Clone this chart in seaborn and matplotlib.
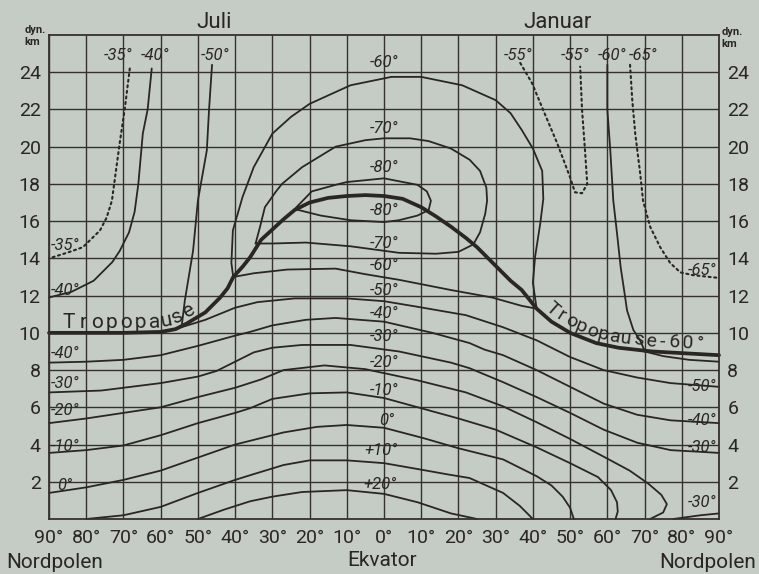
import numpy as np
import pandas as pd
import matplotlib
matplotlib.use("Agg")
import matplotlib.pyplot as plt
import seaborn as sns
from matplotlib import font_manager

# ---------------- data (latitude coordinate u: -90 = Nordpol/Juli, 0 = Ekvator, +90 = Nordpol/Januar; height in dyn. km)
X_TICKS = list(range(-90, 91, 10))
X_TICK_LABELS = ["90°", "80°", "70°", "60°", "50°", "40°", "30°", "20°", "10°", "0°",
                 "10°", "20°", "30°", "40°", "50°", "60°", "70°", "80°", "90°"]
Y_TICKS = list(range(2, 25, 2))

TROPOPAUSE = [(-90, 10.0), (-70, 10.0), (-60, 10.05), (-56, 10.2), (-53, 10.5), (-48, 11.1), (-44, 11.9),
              (-42, 12.4), (-40.5, 13.0), (-38, 13.55), (-36, 14.05), (-33, 15.0), (-30, 15.55), (-27, 16.1),
              (-24, 16.6), (-20, 17.0), (-15, 17.25), (-10, 17.35), (-5, 17.4), (0, 17.35), (5, 17.2),
              (10, 16.75), (14, 16.25), (18, 15.7), (22, 15.1), (25, 14.6), (28, 14.0), (31, 13.4),
              (34, 12.8), (37, 12.3), (41, 11.3), (45, 10.6), (50, 10.0), (57, 9.45), (63, 9.2),
              (72, 9.0), (81, 8.9), (90, 8.8)]

# tropospheric isotherms
T_M60_TROP = [(-40.5, 13.0), (-35, 13.2), (-26, 13.4), (-13, 13.45), (-5, 13.15), (4, 12.85), (18, 12.3),
              (29, 11.9), (37, 11.45), (41, 11.3)]
T_M60_POLAR = [(68, 9.1), (75, 8.75), (82, 8.55), (90, 8.45)]
T_M50 = [(-57, 10.15), (-52, 10.45), (-48, 10.7), (-40, 11.35), (-34, 11.65), (-24, 11.85), (-10, 11.85),
         (0, 11.7), (9, 11.4), (22, 10.95), (32, 10.3), (41, 9.6), (50, 8.7), (59, 8.0), (68, 7.6),
         (77, 7.3), (90, 7.1)]
T_M40 = [(-90, 8.4), (-80, 8.45), (-70, 8.55), (-60, 8.8), (-50, 9.3), (-40, 9.85), (-36, 10.05),
         (-30, 10.4), (-21, 10.7), (-13, 10.8), (0, 10.6), (13, 10.0), (23, 9.45), (27, 9.1), (32, 8.8),
         (41, 8.0), (50, 7.1), (59, 6.2), (68, 5.6), (77, 5.3), (90, 5.15)]
T_M30 = [(-90, 6.8), (-76, 6.9), (-60, 7.3), (-50, 7.65), (-45, 7.95), (-40, 8.45), (-35, 8.95),
         (-30, 9.2), (-22, 9.35), (-9, 9.35), (4, 9.0), (18, 8.4), (23, 8.1), (32, 7.35), (41, 6.55),
         (50, 5.7), (59, 4.8), (68, 4.1), (77, 3.7), (90, 3.55)]
T_M30_SURF = [(77.7, 0.0), (85, 0.2), (90, 0.3)]
T_M20 = [(-90, 5.15), (-80, 5.4), (-70, 5.7), (-60, 6.0), (-50, 6.55), (-40, 7.05), (-33, 7.5),
         (-27, 8.0), (-16, 8.25), (-5, 8.05), (9, 7.45), (22, 6.8), (32, 6.05), (41, 5.2), (50, 4.3),
         (59, 3.35), (66, 2.6), (71, 1.9), (74.5, 1.3), (76, 0.8), (75, 0.35), (71.5, 0.0)]
T_M10 = [(-90, 3.55), (-80, 3.7), (-70, 3.95), (-60, 4.5), (-50, 5.15), (-40, 5.7), (-36, 5.95),
         (-30, 6.45), (-20, 6.75), (-10, 6.8), (0, 6.5), (10, 5.95), (20, 5.4), (30, 4.8), (41, 3.85),
         (50, 3.0), (57.5, 2.25), (61, 1.55), (62.6, 0.9), (62.8, 0.4), (62.2, 0.0)]
T_0 = [(-90, 1.4), (-80, 1.7), (-70, 2.1), (-60, 2.6), (-50, 3.3), (-40, 4.0), (-36, 4.2), (-27, 4.65),
       (-18, 4.95), (-10, 5.05), (0, 4.9), (10.5, 4.35), (20, 3.8), (32, 3.2), (41, 2.3), (45, 1.8),
       (48, 1.2), (50, 0.6), (51, 0.0)]
T_P10 = [(-80, 0.0), (-70, 0.2), (-60, 0.65), (-50, 1.4), (-40, 2.1), (-36, 2.35), (-27, 2.9),
         (-20, 3.15), (-10, 3.15), (0, 3.0), (10, 2.65), (17, 2.4), (23, 2.2), (32, 1.4), (36.5, 0.7),
         (40, 0.0)]
T_P20 = [(-50, 0.0), (-43, 0.5), (-36, 0.95), (-30, 1.2), (-22, 1.45), (-10, 1.55), (0, 1.35), (9, 0.9),
         (18, 0.3), (25, 0.0)]

# stratospheric isotherms
S_M60 = [(-40.5, 13.0), (-41, 13.75), (-40.6, 15.5), (-38, 17.3), (-35, 18.9), (-30, 20.7), (-25, 21.6),
         (-20, 22.3), (-9, 23.3), (2, 23.75), (10, 23.75), (21, 23.3), (30, 22.5), (34, 21.8), (37, 20.9),
         (40, 19.9), (42.5, 18.7), (42.8, 17.2), (42, 15.9), (40.6, 14.1), (40, 12.7), (41, 11.3)]
S_M70 = [(-34.5, 14.8), (-33.3, 15.7), (-32, 16.75), (-29, 17.6), (-27.4, 18.0), (-22, 18.9), (-13, 20.0),
         (-5, 20.35), (0, 20.45), (7, 20.45), (12, 20.3), (18, 19.9), (23, 19.3), (25.8, 18.7),
         (27.5, 17.8), (27.7, 17.1), (27.2, 16.4), (25.8, 15.4), (24, 14.75), (20, 14.35), (14, 14.25),
         (4, 14.3), (-9, 14.65), (-21, 14.85), (-30, 14.8), (-34.5, 14.8)]
S_M80 = [(-24, 16.65), (-19.4, 17.6), (-13, 17.95), (-10, 18.1), (0, 18.3), (9, 17.95), (11.5, 17.6),
         (12.6, 17.1), (12, 16.6), (9, 16.3), (4, 16.05), (0, 15.95), (-9, 16.05), (-17, 16.3),
         (-24, 16.65)]
JULI_M50 = [(-46.2, 24.4), (-47, 22.0), (-47.6, 19.8), (-50, 17.1), (-51.3, 14.4), (-53.5, 11.75),
            (-54.3, 10.45)]
JULI_M40 = [(-62.4, 24.2), (-63.5, 22.0), (-64.8, 20.7), (-66, 18.0), (-67, 16.5), (-68.5, 15.4),
            (-71, 14.4), (-73, 13.8), (-78, 12.8), (-84, 12.2), (-90, 11.9)]
JULI_M35 = [(-68.3, 24.2), (-69.6, 22.1), (-71, 20.2), (-73.1, 17.1), (-74.5, 16.2), (-76.3, 15.5),
            (-80.9, 14.6), (-85.2, 14.3), (-90, 14.0)]
JAN_M55 = [(36.6, 24.5), (39.8, 23.4), (42.7, 22.0), (46.5, 20.2), (50, 18.35), (51.3, 17.55),
           (53.2, 17.5), (54.6, 18.0), (54, 19.8), (53.2, 22.0), (52.7, 24.3)]
JAN_M60 = [(60, 24.4), (60, 22.0), (60.8, 19.8), (61.6, 17.1), (62.6, 15.35), (63.6, 13.5), (64.5, 12.3),
           (65.3, 11.2), (67, 10.15), (68.8, 9.6), (70, 9.05)]
JAN_M65 = [(66.1, 24.4), (66.7, 22.5), (67.5, 20.7), (68.8, 18.6), (69.6, 17.1), (71.5, 15.7),
           (74.2, 14.6), (76.9, 13.75), (79.6, 13.25), (83, 13.1), (90, 12.95)]

SOLID_LINES = [T_M60_TROP, T_M60_POLAR, T_M50, T_M40, T_M30, T_M30_SURF, T_M20, T_M10, T_0, T_P10, T_P20,
               S_M60, S_M70, S_M80, JULI_M50, JULI_M40, JAN_M60]
DOTTED_LINES = [JULI_M35, JAN_M55, JAN_M65]

CENTER_LABELS = ["-60°", "-70°", "-80°", "-80°", "-70°", "-60°", "-50°", "-40°", "-30°", "-20°", "-10°",
                 "0°", "+10°", "+20°"]
CENTER_LABEL_Y = [24.53, 20.99, 18.89, 16.59, 14.81, 13.63, 12.29, 11.06, 9.82, 8.43, 6.92, 5.31, 3.70, 1.83]
CENTER_LABEL_X = [0, 0, 0, 0, 0, 0, 0, 0, 0, 0, 0, 0.8, -0.8, -1.0]

LEFT_LABELS = ["-35°", "-40°", "-40°", "-30°", "-20°", "-10°", "0°"]
LEFT_LABEL_Y = [14.7, 12.3, 8.9, 7.3, 5.85, 3.9, 1.8]
RIGHT_LABELS = ["-65°", "-50°", "-40°", "-30°", "-30°"]
RIGHT_LABEL_Y = [13.37, 7.14, 5.31, 3.86, 0.86]
TOP_LABELS = ["-35°", "-40°", "-50°", "-55°", "-55°", "-60°", "-65°"]
TOP_LABEL_X = [-71.5, -61.6, -45.4, 36.0, 51.3, 61.3, 69.6]

# ---------------- style
PAPER = "#c5ccc5"
INK = "#2a2622"
GRIDC = "#35312d"

sns.set_style("white")
names = {f.name for f in font_manager.fontManager.ttflist}
MAIN = "Roboto" if "Roboto" in names else "DejaVu Sans"
FAM = [MAIN, "DejaVu Sans"]
plt.rcParams["font.family"] = FAM
plt.rcParams["text.color"] = INK

fig = plt.figure(figsize=(7.59, 5.74), dpi=100, facecolor=PAPER)
ax = fig.add_axes([49 / 759, 1 - 519 / 574, 670 / 759, 484 / 574])
ax.set_facecolor(PAPER)
ax.set_xlim(-90, 90)
ax.set_ylim(0, 26)

ax.set_xticks(X_TICKS)
ax.set_xticklabels(X_TICK_LABELS)
ax.set_yticks(Y_TICKS)
ax.tick_params(axis="both", length=0, labelsize=14, colors=INK)
ax.tick_params(axis="y", labelright=True, labelleft=True, pad=6)
ax.tick_params(axis="x", pad=7)
ax.grid(True, color=GRIDC, lw=1.0)
for sp in ax.spines.values():
    sp.set_color(GRIDC)
    sp.set_linewidth(1.3)


def draw(pts, lw=1.2, ls="-"):
    df = pd.DataFrame(pts, columns=["u", "h"])
    sns.lineplot(data=df, x="u", y="h", sort=False, estimator=None, ax=ax, color=INK, lw=lw,
                 linestyle=ls, legend=False, solid_joinstyle="round", solid_capstyle="round",
                 dash_capstyle="round", clip_on=False)


for line in SOLID_LINES:
    draw(line, lw=1.3)
for line in DOTTED_LINES:
    draw(line, lw=1.5, ls=(0, (1, 1.7)))
draw(TROPOPAUSE, lw=2.7)
ax.set_xlabel("")
ax.set_ylabel("")

# ---------------- text
lab_kw = dict(fontsize=12, style="italic", color=INK, va="center")
for s, x, y in zip(CENTER_LABELS, CENTER_LABEL_X, CENTER_LABEL_Y):
    ax.text(x, y, s, ha="center", **lab_kw)
for s, y in zip(LEFT_LABELS, LEFT_LABEL_Y):
    ax.text(-89.4 if s != "0°" else -87.8, y, s, ha="left", **lab_kw)
for s, y in zip(RIGHT_LABELS, RIGHT_LABEL_Y):
    ax.text(89.4, y, s, ha="right", **lab_kw)
for s, x in zip(TOP_LABELS, TOP_LABEL_X):
    ax.text(x, 24.9, s, ha="center", **lab_kw)


def text_along(pts, s, start_px, spacing, offset, fs):
    disp = ax.transData.transform(np.asarray(pts, dtype=float))
    seg = np.diff(disp, axis=0)
    d = np.r_[0, np.cumsum(np.hypot(seg[:, 0], seg[:, 1]))]
    s0 = np.interp(start_px, disp[:, 0], d)
    inv = ax.transData.inverted()

    def at(sv):
        return np.array([np.interp(sv, d, disp[:, 0]), np.interp(sv, d, disp[:, 1])])

    for i, ch in enumerate(s):
        si = s0 + (i + 0.5) * spacing
        v = at(si + 7) - at(si - 7)
        v = v / np.hypot(*v)
        n = np.array([-v[1], v[0]])
        q = at(si) + n * offset
        ang = np.degrees(np.arctan2(v[1], v[0]))
        xd, yd = inv.transform(q)
        ax.text(xd, yd, ch, rotation=ang, rotation_mode="anchor", ha="center", va="baseline",
                fontsize=fs, color=INK)


text_along(TROPOPAUSE, "Tropopause", 62, 14.2, 4.5, 15)
text_along(TROPOPAUSE, "Tropopause-60°", 541, 12.4, 5.0, 14)

fig.text(214 / 759, 1 - 23 / 574, "Juli", ha="center", va="center", fontsize=16, color=INK)
fig.text(558 / 759, 1 - 23 / 574, "Januar", ha="center", va="center", fontsize=16, color=INK)
fig.text(55 / 759, 1 - 562 / 574, "Nordpolen", ha="center", va="center", fontsize=15, color=INK)
fig.text(382 / 759, 1 - 560 / 574, "Ekvator", ha="center", va="center", fontsize=15, color=INK)
fig.text(708 / 759, 1 - 562 / 574, "Nordpolen", ha="center", va="center", fontsize=15, color=INK)
fig.text(35 / 759, 1 - 30 / 574, "dyn.", ha="center", va="center", fontsize=8, weight="bold", color=INK)
fig.text(32 / 759, 1 - 42 / 574, "km", ha="center", va="center", fontsize=8, weight="bold", color=INK)
fig.text(732 / 759, 1 - 32 / 574, "dyn.", ha="center", va="center", fontsize=8, weight="bold", color=INK)
fig.text(729 / 759, 1 - 44 / 574, "km", ha="center", va="center", fontsize=8, weight="bold", color=INK)

fig.savefig("out.png", dpi=100, facecolor=PAPER)
